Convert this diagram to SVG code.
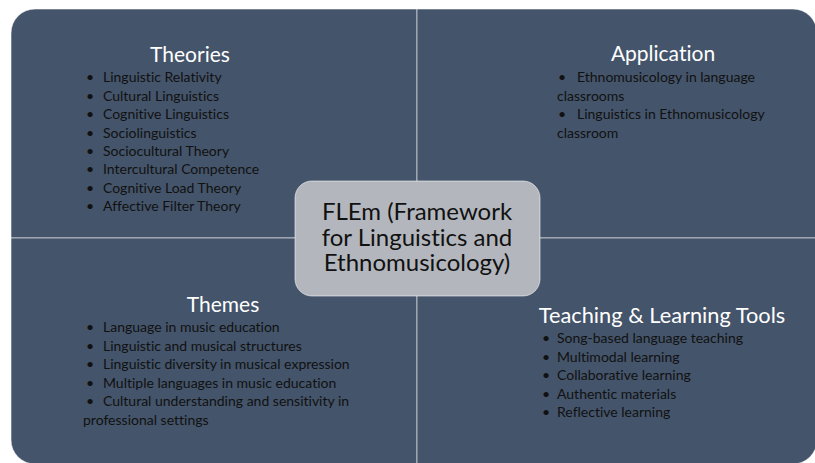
<svg xmlns="http://www.w3.org/2000/svg" width="815" height="463" viewBox="0 0 815 463">
  <style>
    text { font-variant-ligatures: none; }
    .quad { fill: #44546a; stroke: #ffffff; stroke-width: 0.8; stroke-opacity: 0.7; }
    .hub { fill: #b3b7bd; stroke: #ffffff; stroke-width: 0.8; stroke-opacity: 0.7; }
    .title { font-family: Lato, "Liberation Sans", sans-serif; font-size: 21px; fill: #ffffff; text-anchor: middle; }
    .item { font-family: Lato, "Liberation Sans", sans-serif; font-size: 14px; fill: #111111; }
    .hubtext { font-family: Lato, "Liberation Sans", sans-serif; font-size: 24px; fill: #111111; text-anchor: middle; }
  </style>
  <rect width="815" height="463" fill="#ffffff"/>

  <!-- Theories: top-left quadrant -->
  <g id="theories">
    <path class="quad" d="M11,33 A24,24 0 0 1 35,9 L417,9 L417,238 L11,238 Z"/>
    <text class="title" x="190" y="62">Theories</text>
    <g class="item">
      <text x="86" y="82">•</text><text x="103" y="82">Linguistic Relativity</text>
      <text x="86" y="100.5">•</text><text x="103" y="100.5">Cultural Linguistics</text>
      <text x="86" y="119">•</text><text x="103" y="119">Cognitive Linguistics</text>
      <text x="86" y="137.5">•</text><text x="103" y="137.5">Sociolinguistics</text>
      <text x="86" y="156">•</text><text x="103" y="156">Sociocultural Theory</text>
      <text x="86" y="174">•</text><text x="103" y="174">Intercultural Competence</text>
      <text x="86" y="192.5">•</text><text x="103" y="192.5">Cognitive Load Theory</text>
      <text x="86" y="211">•</text><text x="103" y="211">Affective Filter Theory</text>
    </g>
  </g>

  <!-- Application: top-right quadrant -->
  <g id="application">
    <path class="quad" d="M417,9 L793,9 A24,24 0 0 1 817,33 L817,238 L417,238 Z"/>
    <text class="title" x="663" y="61">Application</text>
    <g class="item">
      <text x="558" y="82">•</text><text x="577" y="82">Ethnomusicology in language</text>
      <text x="557" y="100.5">classrooms</text>
      <text x="558" y="119">•</text><text x="577" y="119">Linguistics in Ethnomusicology</text>
      <text x="557" y="137.5">classroom</text>
    </g>
  </g>

  <!-- Themes: bottom-left quadrant -->
  <g id="themes">
    <path class="quad" d="M11,238 L417,238 L417,464 L35,464 A24,24 0 0 1 11,440 Z"/>
    <text class="title" x="223" y="312">Themes</text>
    <g class="item">
      <text x="86" y="332">•</text><text x="103" y="332">Language in music education</text>
      <text x="86" y="350.5">•</text><text x="103" y="350.5">Linguistic and musical structures</text>
      <text x="86" y="369">•</text><text x="103" y="369">Linguistic diversity in musical expression</text>
      <text x="86" y="387.5">•</text><text x="103" y="387.5">Multiple languages in music education</text>
      <text x="86" y="406">•</text><text x="103" y="406">Cultural understanding and sensitivity in</text>
      <text x="83" y="424.5">professional settings</text>
    </g>
  </g>

  <!-- Teaching & Learning Tools: bottom-right quadrant -->
  <g id="tools">
    <path class="quad" d="M417,238 L817,238 L817,440 A24,24 0 0 1 793,464 L417,464 Z"/>
    <text class="title" x="662" y="323" style="font-size:21.8px">Teaching &amp; Learning Tools</text>
    <g class="item">
      <text x="542" y="343">•</text><text x="557" y="343">Song-based language teaching</text>
      <text x="542" y="361.5">•</text><text x="557" y="361.5">Multimodal learning</text>
      <text x="542" y="380">•</text><text x="557" y="380">Collaborative learning</text>
      <text x="542" y="398.5">•</text><text x="557" y="398.5">Authentic materials</text>
      <text x="542" y="417">•</text><text x="557" y="417">Reflective learning</text>
    </g>
  </g>

  <!-- Central hub -->
  <g id="flem">
    <rect class="hub" x="295" y="181" width="245" height="115" rx="17" ry="17"/>
    <text class="hubtext" x="417" y="220">FLEm (Framework</text>
    <text class="hubtext" x="417" y="246">for Linguistics and</text>
    <text class="hubtext" x="417" y="271">Ethnomusicology)</text>
  </g>

  <!-- No connectors: quadrants meet along shared edges -->
  <g id="connectors"/>
</svg>
